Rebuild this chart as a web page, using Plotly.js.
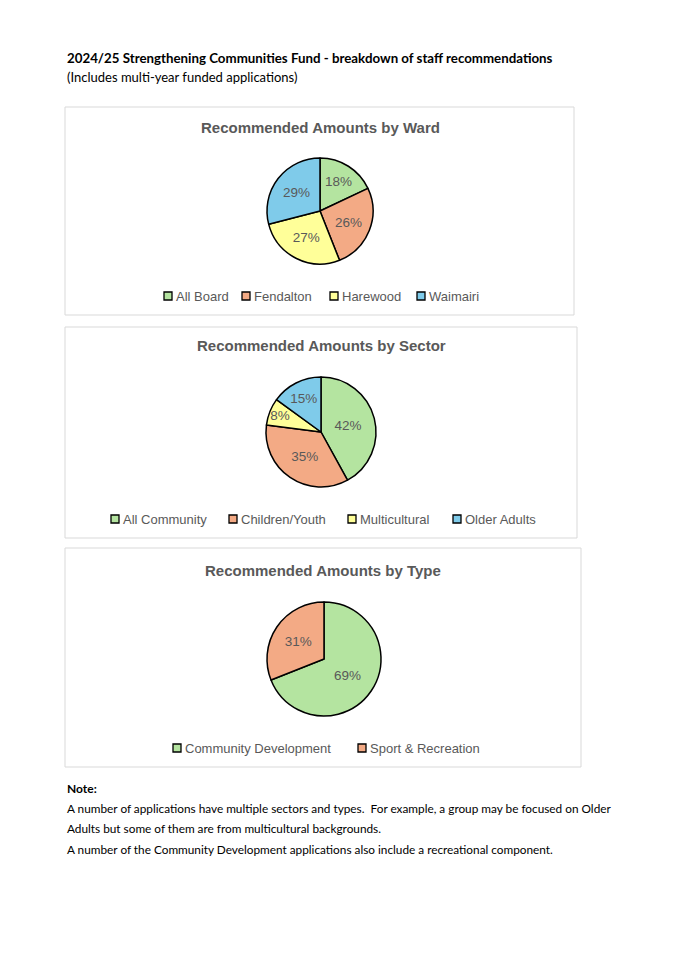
<!DOCTYPE html>
<html><head><meta charset="utf-8">
<script src="https://cdn.plot.ly/plotly-3.0.1.min.js"></script>
<style>html,body{margin:0;padding:0;background:#fff;}#chart{width:675px;height:955px;}</style>
</head><body><div id="chart"></div>
<script>
const W = 675, H = 955;
const wardLabels = ["All Board", "Fendalton", "Harewood", "Waimairi"];
const wardValues = [18, 26, 27, 29];
const sectorLabels = ["All Community", "Children/Youth", "Multicultural", "Older Adults"];
const sectorValues = [42, 35, 8, 15];
const typeLabels = ["Community Development", "Sport & Recreation"];
const typeValues = [69, 31];
const colors4 = ["#b4e4a0", "#f3aa85", "#ffff99", "#7fcbea"];
const colors2 = ["#b4e4a0", "#f3aa85"];

const px = x => x / W;
const py = y => 1 - y / H;
const gray = "#595959";
const font = "Liberation Sans, Arial, sans-serif";
const docFont = "Lato, sans-serif";

function pie(labels, values, colors, cx, cy, r) {
  return {
    type: "pie", labels: labels, values: values, sort: false,
    direction: "clockwise", rotation: 0,
    marker: {colors: colors, line: {color: "#000", width: 1.5}},
    texttemplate: "%{percent:.0%}", textposition: "inside",
    insidetextorientation: "horizontal",
    textfont: {family: font, size: 13.5, color: gray},
    domain: {x: [px(cx - r), px(cx + r)], y: [py(cy + r), py(cy - r)]},
    showlegend: false, hoverinfo: "label+percent"
  };
}

const data = [
  pie(wardLabels, wardValues, colors4, 320, 211, 53),
  pie(sectorLabels, sectorValues, colors4, 321, 432, 55),
  pie(typeLabels, typeValues, colors2, 324, 659, 57)
];

function box(x0, y0, x1, y1) {
  return {type: "rect", xref: "paper", yref: "paper", x0: px(x0), x1: px(x1), y0: py(y1), y1: py(y0),
    line: {color: "#d9d9d9", width: 1}, fillcolor: "rgba(0,0,0,0)", layer: "below"};
}
function ann(text, x, y, opts) {
  return Object.assign({text: text, xref: "paper", yref: "paper", x: px(x), y: py(y),
    showarrow: false, xanchor: "left", yanchor: "middle"}, opts);
}

const shapes = [box(65, 107, 574, 315), box(65, 327, 577, 538), box(65, 548, 581, 767)];
const annotations = [
  ann("<b>2024/25 Strengthening Communities Fund - breakdown of staff recommendations</b>", 65, 58,
    {font: {family: docFont, size: 13.3, color: "#000"}}),
  ann("(Includes multi-year funded applications)", 65, 77, {font: {family: docFont, size: 13, color: "#000"}}),
  ann("<b>Recommended Amounts by Ward</b>", 320, 127, {xanchor: "center", font: {family: font, size: 15, color: gray}}),
  ann("<b>Recommended Amounts by Sector</b>", 321, 346, {xanchor: "center", font: {family: font, size: 15, color: gray}}),
  ann("<b>Recommended Amounts by Type</b>", 323, 570, {xanchor: "center", font: {family: font, size: 15, color: gray}}),
  ann("<b>Note:</b>", 65, 788, {font: {family: docFont, size: 12, color: "#000"}}),
  ann("A number of applications have multiple sectors and types.  For example, a group may be focused on Older", 65, 808,
    {font: {family: docFont, size: 11.8, color: "#000"}}),
  ann("Adults but some of them are from multicultural backgrounds.", 65, 828, {font: {family: docFont, size: 11.8, color: "#000"}}),
  ann("A number of the Community Development applications also include a recreational component.", 65, 849,
    {font: {family: docFont, size: 11.8, color: "#000"}})
];

// legend entries: swatch + label, built from the label/colour arrays
function legend(labels, colors, starts, y) {
  labels.forEach((lab, i) => {
    const x0 = starts[i];
    shapes.push({type: "rect", xref: "paper", yref: "paper",
      x0: px(x0), x1: px(x0 + 8), y0: py(y + 4), y1: py(y - 4),
      fillcolor: colors[i], line: {color: "#000", width: 1.3}});
    annotations.push(ann(lab, x0 + 10, y, {font: {family: font, size: 13, color: gray}}));
  });
}
legend(wardLabels, colors4, [164, 242, 330, 417], 296);
legend(sectorLabels, colors4, [111, 229, 348, 453], 519);
legend(typeLabels, colors2, [173, 358], 748);

const layout = {
  width: W, height: H, margin: {l: 0, r: 0, t: 0, b: 0},
  paper_bgcolor: "#fff", plot_bgcolor: "#fff",
  showlegend: false,
  uniformtext: {minsize: 13, mode: "show"},
  shapes: shapes, annotations: annotations
};

Plotly.newPlot("chart", data, layout, {displayModeBar: false, staticPlot: true});
</script></body></html>
